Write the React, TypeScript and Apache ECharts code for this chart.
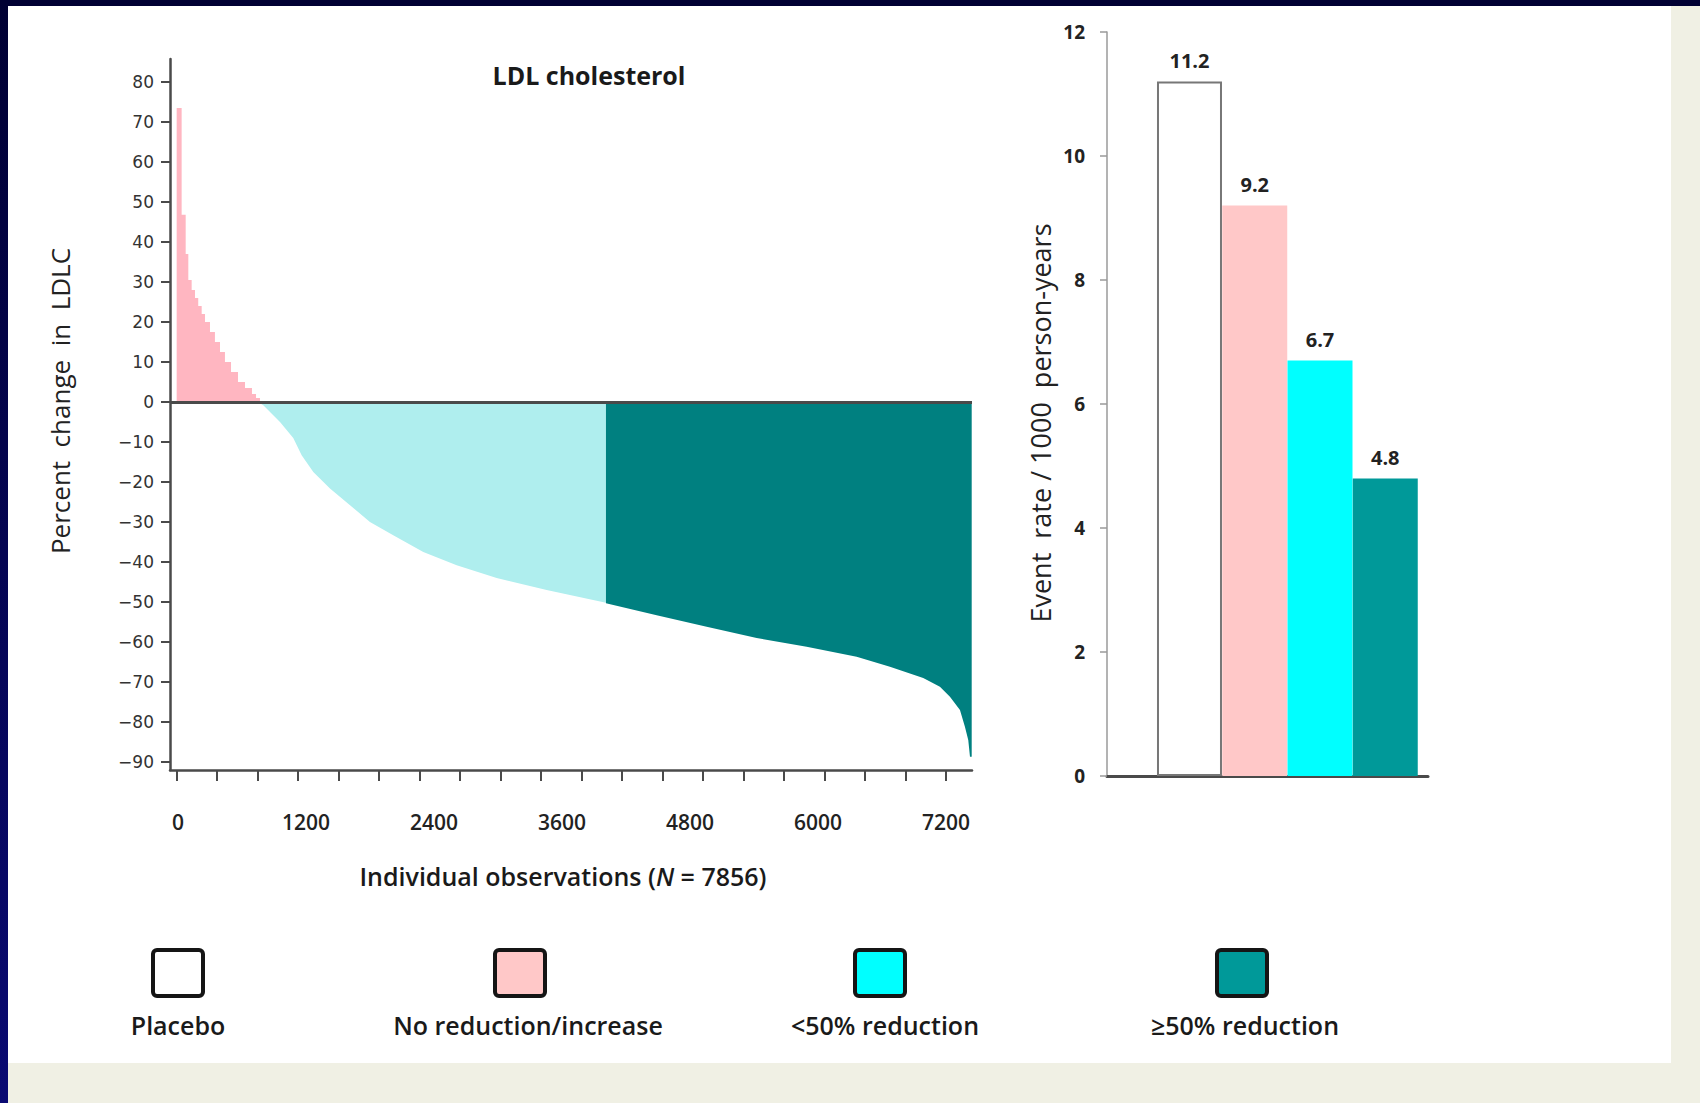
import React, { useEffect, useRef } from 'react';
import * as echarts from 'echarts';

// ---- Left panel: individual % change in LDL-C (sorted observations) ----
const pinkObs = [0, 49, 89, 115, 148, 181, 213, 247, 280, 329, 378, 428, 477, 537, 606, 675, 744, 784, 823];
const pinkPct = [73.5, 46.8, 37, 30.5, 28, 26, 24, 22, 20, 17.5, 15, 12.5, 10, 7.5, 5, 3.5, 2, 1, 0];

const cyanObs = [823, 856, 1021, 1152, 1235, 1350, 1515, 1713, 1910, 2140, 2437, 2767, 3162, 3656, 4242];
const cyanPct = [-0.3, -0.8, -5, -9, -13.3, -17.5, -21.6, -25.8, -30, -33.3, -37.5, -40.8, -44, -47, -50.2];

const tealObs = [4242, 4743, 5237, 5731, 6225, 6719, 7048, 7377, 7542, 7641, 7740, 7789, 7822, 7839, 7856];
const tealPct = [-50.3, -53.3, -56.2, -59, -61.2, -63.7, -66.2, -69, -71.2, -73.7, -77, -81.2, -84.5, -88.7, -88.7];

const yTicks = [80, 70, 60, 50, 40, 30, 20, 10, 0, -10, -20, -30, -40, -50, -60, -70, -80, -90];
const xTicks = [0, 400, 800, 1200, 1600, 2000, 2400, 2800, 3200, 3600, 4000, 4400, 4800, 5200, 5600, 6000, 6400, 6800, 7200, 7600];
const xLabels = [0, 1200, 2400, 3600, 4800, 6000, 7200];

// ---- Right panel: event rates ----
const groups = ['Placebo', 'No reduction/increase', '<50% reduction', '≥50% reduction'];
const eventRates = [11.2, 9.2, 6.7, 4.8];
const groupColors = ['#ffffff', '#ffc8c8', '#00ffff', '#009999'];

const zip = (a: number[], b: number[]) => a.map((v, i) => [v, b[i]]);

const FONT = 'Open Sans';

export default function App() {
  const ref = useRef<HTMLDivElement>(null);

  useEffect(() => {
    const chart = echarts.init(ref.current!, null, { renderer: 'svg', width: 1700, height: 1103 });

    const legendBoxX = [178, 520, 880, 1242];
    const legendTextX = [178, 528, 885, 1245];

    const graphics: any[] = [];
    groups.forEach((g, i) => {
      graphics.push({
        type: 'rect',
        shape: { x: legendBoxX[i] - 25, y: 950, width: 50, height: 46, r: 4 },
        style: { fill: groupColors[i], stroke: '#151515', lineWidth: 4 },
      });
      graphics.push({
        type: 'text',
        x: legendTextX[i],
        y: 1025,
        style: {
          text: g,
          fill: '#1a1a1a',
          font: `600 25px "${FONT}"`,
          textAlign: 'center',
          textVerticalAlign: 'middle',
        },
      });
    });
    graphics.push({
      type: 'text',
      x: 589,
      y: 75,
      style: {
        text: 'LDL cholesterol',
        fill: '#1a1a1a',
        font: `bold 25px "${FONT}"`,
        textAlign: 'center',
        textVerticalAlign: 'middle',
      },
    });
    graphics.push({
      type: 'text',
      x: 563,
      y: 876,
      style: {
        text: '{a|Individual observations (}{b|N}{a| = 7856)}',
        textAlign: 'center',
        textVerticalAlign: 'middle',
        rich: {
          a: { fontFamily: FONT, fontSize: 25, fontWeight: 600, fill: '#1a1a1a' },
          b: { fontFamily: FONT, fontSize: 25, fontWeight: 600, fontStyle: 'italic', fill: '#1a1a1a' },
        },
      },
    });
    graphics.push({
      type: 'text',
      x: 60,
      y: 401,
      rotation: Math.PI / 2,
      style: {
        text: 'Percent  change  in  LDLC',
        fill: '#222',
        font: `26px "${FONT}"`,
        textAlign: 'center',
        textVerticalAlign: 'middle',
      },
    });
    graphics.push({
      type: 'text',
      x: 1040,
      y: 423,
      rotation: Math.PI / 2,
      style: {
        text: 'Event  rate / 1000  person-years',
        fill: '#222',
        font: `27px "${FONT}"`,
        textAlign: 'center',
        textVerticalAlign: 'middle',
      },
    });

    const option: any = {
      animation: false,
      backgroundColor: 'transparent',
      graphic: graphics,
      grid: [
        { left: 170, top: 59, width: 802, height: 711 },
        { left: 1107, top: 32, width: 321, height: 744 },
      ],
      xAxis: [
        {
          type: 'value',
          gridIndex: 0,
          min: -66,
          max: 7859,
          position: 'bottom',
          axisLine: { show: true, onZero: false, lineStyle: { color: '#4a4a4a', width: 2.5 } },
          axisTick: { show: true, customValues: xTicks, length: 11, lineStyle: { color: '#4a4a4a', width: 2 } },
          axisLabel: { show: false },
          splitLine: { show: false },
        },
        {
          type: 'value',
          gridIndex: 0,
          min: -75,
          max: 7444,
          position: 'bottom',
          axisLine: { show: false },
          axisTick: { show: false },
          axisLabel: {
            show: true,
            customValues: xLabels,
            formatter: (v: number) => String(v),
            margin: 41,
            fontFamily: FONT,
            fontSize: 21,
            fontWeight: 600,
            color: '#222',
          },
          splitLine: { show: false },
        },
        {
          type: 'value',
          gridIndex: 1,
          min: -1.264,
          max: 3.655,
          axisLine: { show: true, onZero: false, lineStyle: { color: '#4a4a4a', width: 3 } },
          axisTick: { show: false },
          axisLabel: { show: false },
          splitLine: { show: false },
        },
      ],
      yAxis: [
        {
          type: 'value',
          gridIndex: 0,
          min: -92,
          max: 85.75,
          axisLine: { show: true, onZero: false, lineStyle: { color: '#4a4a4a', width: 2.5 } },
          axisTick: { show: true, customValues: yTicks, length: 9, lineStyle: { color: '#4a4a4a', width: 2 } },
          axisLabel: {
            show: true,
            customValues: yTicks,
            formatter: (v: number) => String(v).replace('-', '\u2212'),
            margin: 16,
            fontFamily: 'DejaVu Sans',
            fontSize: 17,
            color: '#333',
          },
          splitLine: { show: false },
        },
        {
          type: 'value',
          gridIndex: 1,
          min: 0,
          max: 12,
          interval: 2,
          axisLine: { show: true, onZero: false, lineStyle: { color: '#9a9a9a', width: 1.5 } },
          axisTick: { show: true, length: 7, lineStyle: { color: '#9a9a9a', width: 1.5 } },
          axisLabel: {
            margin: 22,
            fontFamily: FONT,
            fontSize: 19,
            fontWeight: 'bold',
            color: '#222',
          },
          splitLine: { show: false },
        },
      ],
      series: [
        {
          type: 'line',
          xAxisIndex: 0,
          yAxisIndex: 0,
          step: 'end',
          showSymbol: false,
          lineStyle: { width: 0 },
          areaStyle: { color: '#ffb6c1', opacity: 1 },
          data: zip(pinkObs, pinkPct),
          silent: true,
        },
        {
          type: 'line',
          xAxisIndex: 0,
          yAxisIndex: 0,
          showSymbol: false,
          lineStyle: { width: 0 },
          areaStyle: { color: '#afeeee', opacity: 1 },
          data: zip(cyanObs, cyanPct),
          silent: true,
        },
        {
          type: 'line',
          xAxisIndex: 0,
          yAxisIndex: 0,
          showSymbol: false,
          lineStyle: { width: 0 },
          areaStyle: { color: '#008080', opacity: 1 },
          data: zip(tealObs, tealPct),
          silent: true,
          markLine: {
            silent: true,
            symbol: 'none',
            label: { show: false },
            lineStyle: { color: '#4a4a4a', width: 3, type: 'solid' },
            data: [{ yAxis: 0 }],
          },
        },
        {
          type: 'bar',
          xAxisIndex: 2,
          yAxisIndex: 1,
          barWidth: 65,
          data: eventRates.map((v, i) => ({
            value: [i, v],
            itemStyle: {
              color: groupColors[i],
              borderColor: i === 0 ? '#777' : groupColors[i],
              borderWidth: i === 0 ? 2 : 0,
            },
          })),
          label: {
            show: true,
            position: 'top',
            distance: 11,
            formatter: (p: any) => p.value[1].toFixed(1),
            fontFamily: FONT,
            fontSize: 20,
            fontWeight: 'bold',
            color: '#222',
          },
        },
      ],
    };

    chart.setOption(option);
    return () => chart.dispose();
  }, []);

  return (
    <div
      style={{
        position: 'fixed',
        left: 0,
        top: 0,
        width: 1700,
        height: 1103,
        background: '#f0f0e4',
        overflow: 'hidden',
      }}
    >
      <div style={{ position: 'absolute', left: 8, top: 6, width: 1663, height: 1057, background: '#ffffff' }} />
      <div style={{ position: 'absolute', left: 0, top: 0, width: 1700, height: 6, background: '#000033' }} />
      <div
        style={{
          position: 'absolute',
          left: 0,
          top: 0,
          width: 8,
          height: 1103,
          background: 'linear-gradient(#000033, #0a0a72)',
        }}
      />
      <div ref={ref} style={{ position: 'absolute', left: 0, top: 0, width: 1700, height: 1103 }} />
    </div>
  );
}
